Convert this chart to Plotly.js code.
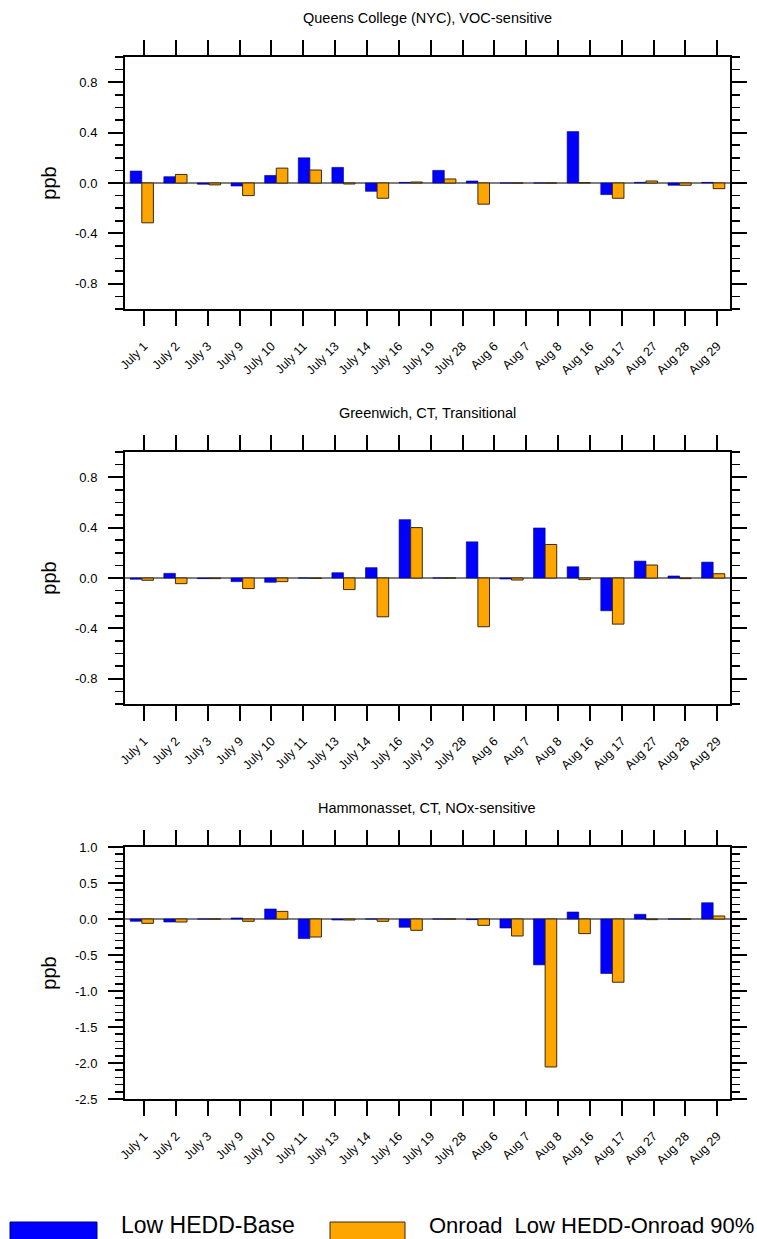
<!DOCTYPE html>
<html>
<head>
<meta charset="utf-8">
<script src="https://cdn.plot.ly/plotly-3.0.1.min.js"></script>
<style>html,body{margin:0;padding:0;background:#fff;}#chart{width:757px;height:1239px;}</style>
</head>
<body>
<div id="chart"></div>
<script>
// ---- data ----
const dateLabels = ['July 1','July 2','July 3','July 9','July 10','July 11','July 13','July 14','July 16','July 19','July 28','Aug 6','Aug 7','Aug 8','Aug 16','Aug 17','Aug 27','Aug 28','Aug 29'];
// the original figure draws 18 bar pairs spread over the frame (one fewer than the 19 tick labels)
const barSlots = ['s1','s2','s3','s4','s5','s6','s7','s8','s9','s10','s11','s12','s13','s14','s15','s16','s17','s18'];
const seriesNames = ['Low HEDD-Base', 'Onroad\u00a0\u00a0Low HEDD-Onroad 90%'];
const panelTitles = ['Queens College (NYC), VOC-sensitive', 'Greenwich, CT, Transitional', 'Hammonasset, CT, NOx-sensitive'];

const queensBase   = [0.095, 0.050, -0.010, -0.024, 0.060, 0.200, 0.124, -0.066, 0.005, 0.100, 0.016, 0.000, 0.000, 0.408, -0.092, 0.005, -0.018, 0.005];
const queensOnroad = [-0.316, 0.068, -0.015, -0.100, 0.118, 0.103, -0.008, -0.121, 0.008, 0.032, -0.168, 0.000, 0.000, 0.003, -0.121, 0.016, -0.018, -0.045];

const greenBase    = [-0.010, 0.037, -0.005, -0.029, -0.034, 0.000, 0.042, 0.082, 0.463, 0.000, 0.287, -0.008, 0.397, 0.089, -0.260, 0.134, 0.016, 0.126];
const greenOnroad  = [-0.018, -0.045, -0.005, -0.084, -0.029, -0.003, -0.092, -0.308, 0.400, 0.000, -0.387, -0.016, 0.266, -0.013, -0.366, 0.103, -0.005, 0.034];

const hammoBase    = [-0.032, -0.042, 0.000, 0.014, 0.139, -0.272, -0.014, 0.000, -0.115, 0.000, -0.009, -0.125, -0.637, 0.097, -0.757, 0.065, 0.000, 0.226];
const hammoOnroad  = [-0.060, -0.042, 0.000, -0.032, 0.106, -0.250, -0.014, -0.032, -0.157, 0.000, -0.088, -0.236, -2.055, -0.203, -0.878, -0.009, 0.000, 0.042];

const yTickVals12 = [-0.8, -0.4, 0.0, 0.4, 0.8];
const yTickText12 = ['-0.8', '-0.4', '0.0', '0.4', '0.8'];
const yTickVals3  = [-2.5, -2.0, -1.5, -1.0, -0.5, 0.0, 0.5, 1.0];
const yTickText3  = ['-2.5', '-2.0', '-1.5', '-1.0', '-0.5', '0.0', '0.5', '1.0'];

// ---- styling / layout ----
const W = 757, H = 1239;
const BLUE = '#0000ff', ORANGE = '#ffa500';
const FONT = 'Liberation Sans, Arial, Helvetica, sans-serif';
const xDom = [125 / W, 730 / W];
const panelsPx = [[57, 309], [452, 704], [847, 1099]];
const yDoms = panelsPx.map(p => [1 - p[1] / H, 1 - p[0] / H]);
const yRanges = [[-1, 1], [-1, 1], [-2.5, 1.0]];
const panelData = [[queensBase, queensOnroad], [greenBase, greenOnroad], [hammoBase, hammoOnroad]];

const traces = [];
const layout = {
  width: W, height: H,
  margin: {l: 0, r: 0, t: 0, b: 0},
  paper_bgcolor: '#fff', plot_bgcolor: 'rgba(0,0,0,0)',
  font: {family: FONT, color: '#000', size: 13},
  showlegend: false,
  barmode: 'group', bargap: 0.31, bargroupgap: 0,
  annotations: [], shapes: []
};

for (let p = 0; p < 3; p++) {
  const n = p + 1;
  const xs = n === 1 ? '' : String(n);
  const xb = String(n + 3);
  const ys = n === 1 ? '' : String(n);
  // date-label axis (19 labels)
  layout['xaxis' + xs] = {
    domain: xDom, anchor: 'y' + ys, type: 'category',
    categoryorder: 'array', categoryarray: dateLabels,
    range: [-0.6, dateLabels.length - 0.6],
    tickangle: -45, tickfont: {size: 12.5, family: FONT},
    ticks: 'outside', ticklen: 15, tickwidth: 2, tickcolor: '#000',
    ticklabelstandoff: 8,
    showline: true, linewidth: 2, linecolor: '#000', mirror: 'ticks',
    showgrid: false, zeroline: false, fixedrange: true
  };
  // hidden bar-slot axis
  layout['xaxis' + xb] = {
    overlaying: 'x' + xs, anchor: 'y' + ys, type: 'category',
    categoryorder: 'array', categoryarray: barSlots,
    range: [-0.5, barSlots.length - 0.5], visible: false, fixedrange: true
  };
  const three = p === 2;
  layout['yaxis' + ys] = {
    domain: yDoms[p], anchor: 'x' + xs, range: yRanges[p],
    tickmode: 'array', tickvals: three ? yTickVals3 : yTickVals12, ticktext: three ? yTickText3 : yTickText12,
    tickfont: {size: 13, family: FONT},
    ticks: 'outside', ticklen: 15, tickwidth: 2, tickcolor: '#000',
    minor: {tickmode: 'linear', tick0: 0, dtick: 0.1, ticks: 'outside', ticklen: 8, tickwidth: 1.5, tickcolor: '#000', showgrid: false},
    ticklabelstandoff: 8,
    showline: true, linewidth: 2, linecolor: '#000', mirror: 'ticks',
    showgrid: false, zeroline: true, zerolinecolor: '#7f7f7f', zerolinewidth: 1.5,
    title: {text: 'ppb', font: {size: 20, family: FONT}, standoff: 13},
    fixedrange: true
  };
  // empty carrier so the date-label axis is laid out (draws nothing)
  traces.push({
    type: 'scatter', mode: 'none', x: dateLabels, y: dateLabels.map(() => null),
    xaxis: 'x' + xs, yaxis: 'y' + ys, hoverinfo: 'skip', showlegend: false
  });
  traces.push({
    type: 'bar', name: seriesNames[0], x: barSlots, y: panelData[p][0],
    xaxis: 'x' + xb, yaxis: 'y' + ys,
    marker: {color: BLUE, line: {color: '#00007a', width: 0.6}}, showlegend: false
  });
  traces.push({
    type: 'bar', name: seriesNames[1], x: barSlots, y: panelData[p][1],
    xaxis: 'x' + xb, yaxis: 'y' + ys,
    marker: {color: ORANGE, line: {color: '#3a2a10', width: 1}}, showlegend: false
  });
  layout.annotations.push({
    xref: 'paper', yref: 'paper', x: (xDom[0] + xDom[1]) / 2, y: 1 - (panelsPx[p][0] - 39) / H,
    xanchor: 'center', yanchor: 'middle', showarrow: false,
    text: panelTitles[p], font: {size: 14.5, family: FONT}
  });
}

// legend (bottom edge of the figure, as in the original)
const legendSw = [[10, 97, BLUE, '#00007a'], [330, 405, ORANGE, '#3a2a10']];
const legendTx = [120, 428];
const legendFs = [23, 22];
for (let k = 0; k < 2; k++) {
  layout.shapes.push({
    type: 'rect', xref: 'paper', yref: 'paper',
    x0: legendSw[k][0] / W, x1: legendSw[k][1] / W, y0: 1 - 1222 / H, y1: -0.02,
    fillcolor: legendSw[k][2], line: {color: legendSw[k][3], width: 1}
  });
  layout.annotations.push({
    xref: 'paper', yref: 'paper', x: legendTx[k] / W, y: 0,
    xanchor: 'left', yanchor: 'bottom', showarrow: false, borderpad: 0,
    text: seriesNames[k], font: {size: legendFs[k], family: FONT}
  });
}

Plotly.newPlot('chart', traces, layout, {staticPlot: true, displayModeBar: false});
</script>
</body>
</html>
